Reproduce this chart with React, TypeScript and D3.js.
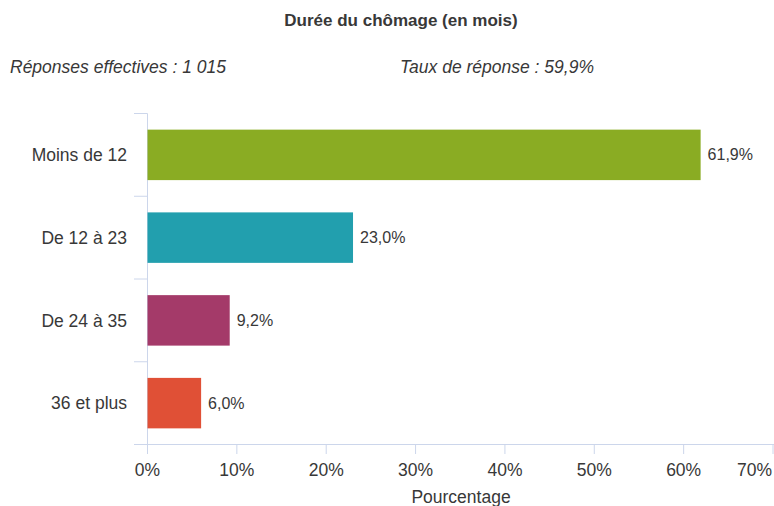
import React from 'react';
import * as d3 from 'd3';

const categories = ['Moins de 12', 'De 12 à 23', 'De 24 à 35', '36 et plus'];
const values = [61.9, 23.0, 9.2, 6.0];
const barColors = ['#8aac23', '#229fae', '#a43a69', '#e05036'];
const xTicks = [0, 10, 20, 30, 40, 50, 60, 70];

const width = 774;
const height = 506;
const font = '"Liberation Sans", Arial, sans-serif';
const axisColor = '#ccd6eb';
const textColor = '#383838';

const fmt = (v: number) => v.toFixed(1).replace('.', ',') + '%';

export default function App() {
    const x = d3.scaleLinear().domain([0, 70]).range([147.5, 773]);
    const y = d3
        .scaleBand<string>()
        .domain(categories)
        .range([113.5, 444.5])
        .paddingInner(0.39)
        .paddingOuter(0.195);
    const step = y.step();
    const bounds = d3.range(categories.length + 1).map((i) => 113.5 + i * step);

    return (
        <svg
            width={width}
            height={height}
            style={{ position: 'absolute', left: 0, top: 0, fontFamily: font }}
        >
            <rect width={width} height={height} fill="#ffffff" />
            <text x={401} y={26} textAnchor="middle" fontSize={17} fontWeight="bold" fill={textColor}>
                Durée du chômage (en mois)
            </text>
            <text x={10} y={73} fontSize={17.5} fontStyle="italic" fill={textColor}>
                Réponses effectives : 1 015
            </text>
            <text x={400} y={73} fontSize={17.5} fontStyle="italic" fill={textColor}>
                Taux de réponse : 59,9%
            </text>

            {/* y axis */}
            <line x1={147.5} x2={147.5} y1={113.5} y2={444.5} stroke={axisColor} />
            {bounds.map((b, i) => (
                <line key={i} x1={134} x2={147.5} y1={b} y2={b} stroke={axisColor} />
            ))}
            {categories.map((c) => (
                <text
                    key={c}
                    x={127}
                    y={(y(c) as number) + y.bandwidth() / 2}
                    dy="0.35em"
                    textAnchor="end"
                    fontSize={17.5}
                    fill={textColor}
                >
                    {c}
                </text>
            ))}

            {/* x axis */}
            <line x1={134} x2={width} y1={444.5} y2={444.5} stroke={axisColor} />
            {xTicks.map((t, i) => (
                <g key={t}>
                    <line x1={x(t)} x2={x(t)} y1={444.5} y2={454} stroke={axisColor} />
                    <text
                        x={i === xTicks.length - 1 ? 772 : x(t)}
                        y={476}
                        textAnchor={i === xTicks.length - 1 ? 'end' : 'middle'}
                        fontSize={17.5}
                        fill={textColor}
                    >
                        {t}%
                    </text>
                </g>
            ))}
            <text x={461} y={503} textAnchor="middle" fontSize={17.5} fill={textColor}>
                Pourcentage
            </text>

            {/* bars */}
            {categories.map((c, i) => (
                <g key={c}>
                    <rect
                        x={x(0)}
                        y={y(c)}
                        width={x(values[i]) - x(0)}
                        height={y.bandwidth()}
                        fill={barColors[i]}
                    />
                    <text
                        x={x(values[i]) + 7}
                        y={(y(c) as number) + y.bandwidth() / 2}
                        dy="0.35em"
                        fontSize={16}
                        fill={textColor}
                    >
                        {fmt(values[i])}
                    </text>
                </g>
            ))}
        </svg>
    );
}
